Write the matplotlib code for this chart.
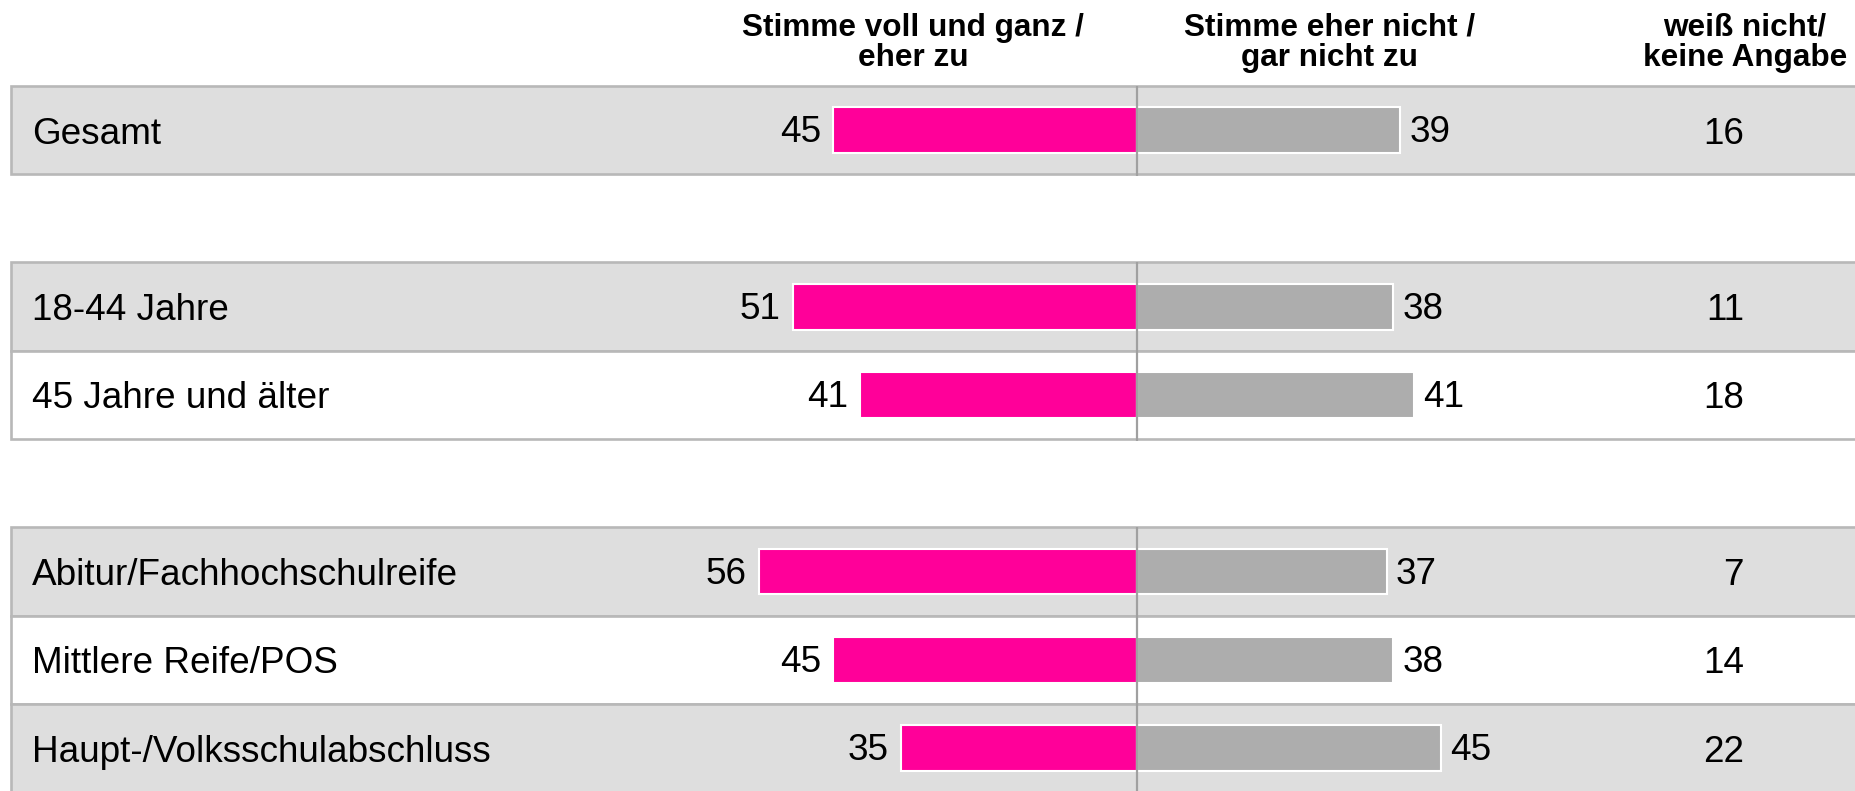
import matplotlib
matplotlib.use("Agg")
import matplotlib.pyplot as plt
from matplotlib.patches import Rectangle

plt.rcParams['font.family'] = ['Liberation Sans', 'DejaVu Sans']

# ---- data ----
categories = ["Gesamt", "18-44 Jahre", "45 Jahre und älter",
              "Abitur/Fachhochschulreife", "Mittlere Reife/POS",
              "Haupt-/Volksschulabschluss"]
agree = [45, 51, 41, 56, 45, 35]
disagree = [39, 38, 41, 37, 38, 45]
dont_know = [16, 11, 18, 7, 14, 22]
header_agree = ["Stimme voll und ganz /", "eher zu"]
header_disagree = ["Stimme eher nicht /", "gar nicht zu"]
header_dk = ["weiß nicht/", "keine Angabe"]

# ---- layout ----
row_pos = [0, 2, 3, 5, 6, 7]
groups = [[0], [1, 2], [3, 4, 5]]
row_shaded = [True, True, False, True, False, True]

W, H, DPI = 1856, 791, 100
fig = plt.figure(figsize=(W / DPI, H / DPI), dpi=DPI)
ax = fig.add_axes([0, 0, 1, 1])

px_per_unit = 6.75
cx = 1137
row_px = 88.3
row0_px = 130
ax.set_xlim(-cx / px_per_unit, (W - cx) / px_per_unit)
ax.set_ylim((H - row0_px) / row_px, -row0_px / row_px)
ax.axis('off')

def xpx(p):
    return (p - cx) / px_per_unit

def ypx(p):
    return (p - row0_px) / row_px

band_gray = '#DEDEDE'
border = '#B8B8B8'
pink = '#FF0099'
bar_gray = '#ADADAD'
axis_col = '#A0A0A0'

left_edge = xpx(11)
for i, y in enumerate(row_pos):
    ax.add_patch(Rectangle((left_edge, y - 0.5), 400, 1.0,
                           facecolor=band_gray if row_shaded[i] else 'white',
                           edgecolor=border, linewidth=1.9, zorder=1))

bar_h = 0.52
ax.barh(row_pos, [-a for a in agree], height=bar_h, color=pink,
        edgecolor='white', linewidth=1.5, zorder=2)
ax.barh(row_pos, disagree, height=bar_h, color=bar_gray,
        edgecolor='white', linewidth=1.5, zorder=2)

for g in groups:
    top = row_pos[g[0]] - 0.5
    bot = row_pos[g[-1]] + 0.5
    ax.plot([0, 0], [top, bot + 0.02], color=axis_col, linewidth=1.6,
            zorder=3, solid_capstyle='butt')

fs = 26.6
val_off = 12 / row_px
lab_off = 13.5 / row_px
for i, y in enumerate(row_pos):
    ax.text(xpx(32), y + lab_off, categories[i], fontsize=fs,
            ha='left', va='baseline', color='black', zorder=4)
    ax.text(-agree[i] - 12 / px_per_unit, y + val_off, str(agree[i]),
            fontsize=fs, ha='right', va='baseline', zorder=4)
    ax.text(disagree[i] + 9 / px_per_unit, y + val_off, str(disagree[i]),
            fontsize=fs, ha='left', va='baseline', zorder=4)
    ax.text(xpx(1744), y + lab_off, str(dont_know[i]), fontsize=fs,
            ha='right', va='baseline', zorder=4)

hfs = 22.7
for lines, xc in ((header_agree, 913), (header_disagree, 1330), (header_dk, 1745)):
    for k, line in enumerate(lines):
        ax.text(xpx(xc), ypx(36 + 30 * k), line, fontsize=hfs,
                fontweight='bold', ha='center', va='baseline', zorder=4)

fig.savefig('out.png', dpi=DPI)
